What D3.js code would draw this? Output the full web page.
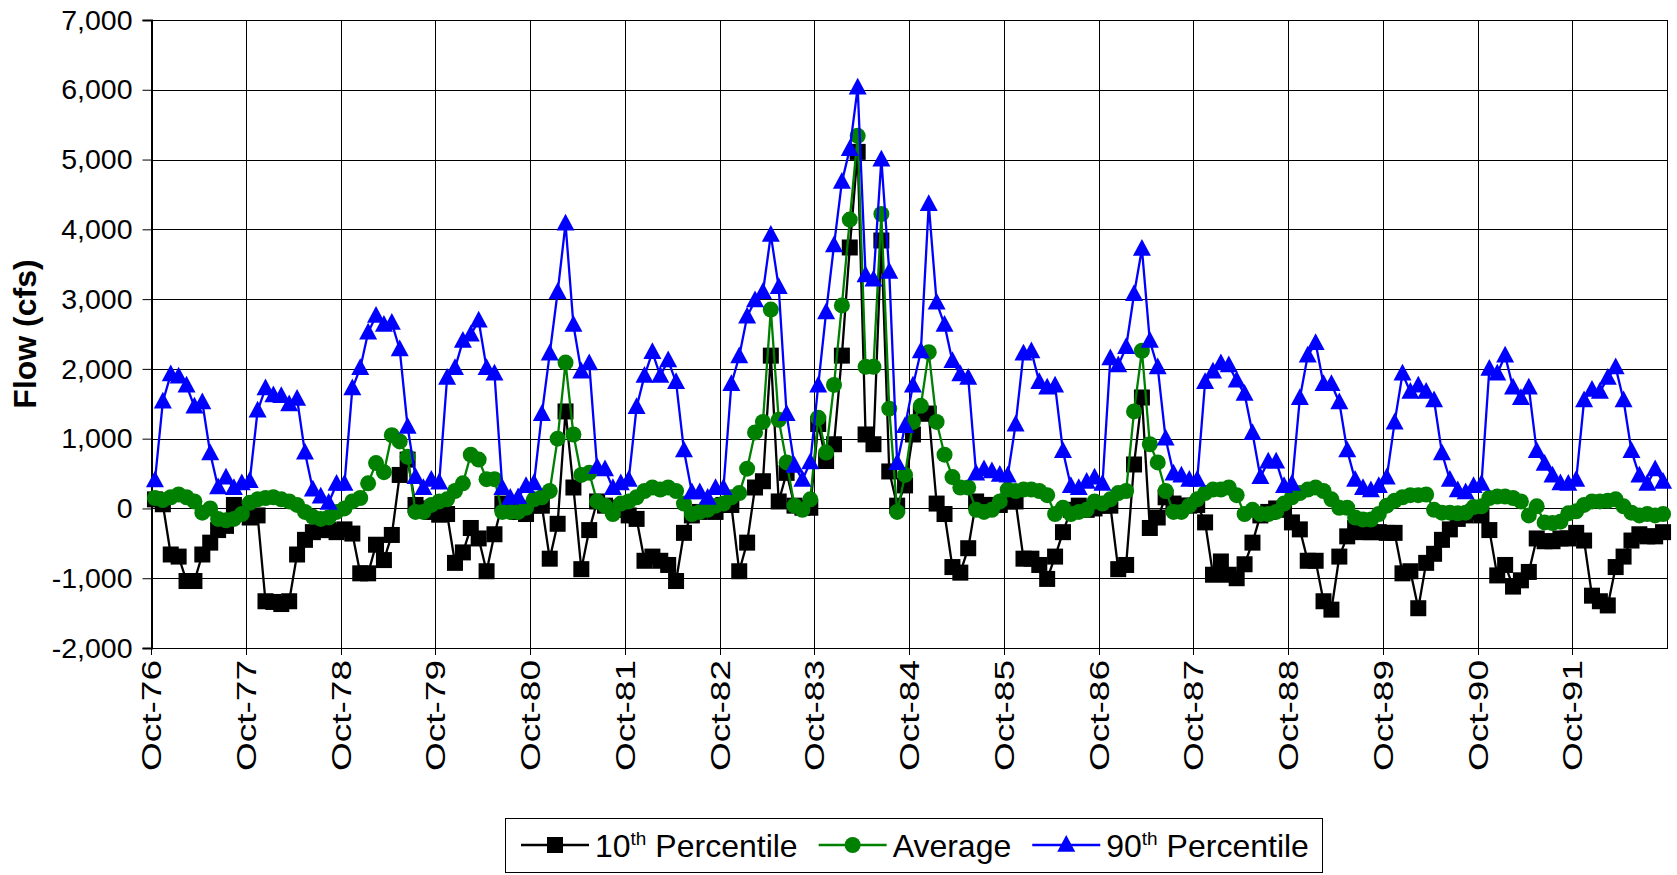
<!DOCTYPE html>
<html>
<head>
<meta charset="utf-8">
<script src="https://cdn.jsdelivr.net/npm/d3@7"></script>
<style>
  body { margin: 0; background: #fff; }
  svg { display: block; font-family: "Liberation Sans", Arial, sans-serif; }
</style>
</head>
<body>
<svg id="chart" width="1677" height="875"></svg>
<script>
// Tick labels along the x axis (one per water year)
const tickLabels = ["Oct-76", "Oct-77", "Oct-78", "Oct-79", "Oct-80", "Oct-81", "Oct-82", "Oct-83",
  "Oct-84", "Oct-85", "Oct-86", "Oct-87", "Oct-88", "Oct-89", "Oct-90", "Oct-91"];

const yTicks = [-2000, -1000, 0, 1000, 2000, 3000, 4000, 5000, 6000, 7000];

// Monthly flows, Oct-76 .. Sep-92, one row per water year
const p10 = [
  130, 60, -660, -690, -1040, -1040, -660, -490, -310, -250, 50, -50,
  -130, -100, -1330, -1340, -1370, -1330, -660, -450, -340, -310, -310, -340,
  -300, -360, -930, -930, -520, -740, -380, 480, 700, 50, 0, -50,
  -90, -80, -780, -630, -280, -430, -900, -370, 70, 10, -50, -80,
  40, 40, -720, -220, 1390, 300, -870, -310, 100, 40, 10, -20,
  -100, -150, -750, -690, -750, -810, -1040, -350, -100, -50, -20, -50,
  50, 50, -900, -490, 300, 390, 2190, 100, 510, 40, 10, 10,
  1210, 680, 920, 2190, 3740, 5110, 1060, 920, 3840, 530, 40, 330,
  1060, 1360, 1360, 70, -80, -840, -920, -570, 100, 50, 50, 50,
  100, 100, -720, -720, -810, -1010, -690, -340, -20, 40, -20, 0,
  40, 40, -870, -810, 630, 1590, -280, -130, 160, 70, 40, 40,
  50, -200, -950, -760, -950, -1000, -800, -490, -100, -50, 0, -20,
  -200, -300, -750, -750, -1330, -1450, -690, -400, -280, -340, -340, -340,
  -350, -350, -930, -900, -1430, -780, -650, -450, -300, -150, -100, -50,
  -100, -310, -960, -810, -1120, -1030, -910, -430, -470, -470, -430, -430,
  -350, -460, -1250, -1330, -1390, -840, -690, -460, -370, -400, -400, -340
];

const avg = [
  150, 120, 160, 200, 160, 100, -60, 0, -150, -170, -150, -80,
  80, 130, 150, 160, 130, 100, 50, -50, -120, -150, -130, -50,
  0, 100, 150, 360, 650, 520, 1050, 960, 740, -50, -50, 50,
  100, 130, 250, 360, 770, 700, 420, 420, -50, -50, -50, 10,
  130, 160, 250, 1000, 2090, 1060, 480, 510, 100, 40, -80, 70,
  100, 160, 250, 300, 270, 300, 250, 70, -80, -50, -20, 40,
  70, 160, 220, 570, 1090, 1240, 2850, 1270, 660, 40, -20, 130,
  1300, 800, 1770, 2910, 4140, 5340, 2030, 2030, 4220, 1430, -50, 480,
  1240, 1470, 2240, 1240, 770, 450, 300, 300, -20, -50, -20, 100,
  270, 250, 270, 270, 250, 190, -80, 10, -80, -50, -20, 100,
  70, 130, 220, 250, 1390, 2260, 920, 660, 250, -50, -50, 40,
  130, 220, 270, 270, 300, 190, -80, -20, -80, -80, -50, 70,
  160, 220, 270, 300, 250, 130, 10, 10, -130, -160, -160, -80,
  40, 110, 160, 190, 190, 200, -20, -60, -60, -70, -60, 20,
  30, 150, 170, 170, 150, 100, -100, 30, -200, -210, -190, -70,
  -40, 50, 100, 100, 110, 130, 30, -60, -100, -80, -100, -80
];

const p90 = [
  400, 1530, 1920, 1890, 1760, 1460, 1520, 790, 300, 440, 290, 360,
  390, 1400, 1720, 1620, 1610, 1490, 1570, 800, 270, 170, 80, 350,
  350, 1720, 2010, 2520, 2760, 2630, 2660, 2280, 1170, 450, 290, 410,
  370, 1870, 2010, 2400, 2490, 2690, 2010, 1930, 290, 150, 160, 320,
  360, 1350, 2220, 3100, 4080, 2630, 1960, 2080, 590, 560, 290, 360,
  410, 1450, 1900, 2240, 1900, 2120, 1810, 830, 230, 230, 150, 290,
  290, 1780, 2180, 2750, 2980, 3100, 3920, 3170, 1350, 610, 410, 660,
  1760, 2810, 3770, 4680, 5150, 6030, 3340, 3280, 5000, 3390, 650, 1180,
  1760, 2250, 4360, 2950, 2630, 2110, 1920, 1870, 500, 560, 530, 480,
  470, 1200, 2220, 2250, 1810, 1730, 1760, 820, 320, 290, 380, 440,
  350, 2150, 2050, 2310, 3070, 3720, 2400, 2020, 1000, 500, 470, 410,
  410, 1810, 1960, 2080, 2050, 1830, 1640, 1080, 450, 670, 670, 320,
  350, 1580, 2190, 2370, 1780, 1780, 1520, 830, 410, 290, 260, 320,
  440, 1230, 1930, 1670, 1760, 1670, 1550, 790, 410, 260, 230, 320,
  350, 2000, 1930, 2190, 1730, 1580, 1730, 820, 640, 470, 360, 350,
  410, 1550, 1700, 1670, 1870, 2020, 1550, 820, 470, 350, 560, 380
];

const series = [
  { name: "10", sup: "th", rest: " Percentile", values: p10, color: "#000000", marker: "square" },
  { name: "Average", sup: "", rest: "", values: avg, color: "#008000", marker: "circle" },
  { name: "90", sup: "th", rest: " Percentile", values: p90, color: "#0000FF", marker: "triangle" }
];

const svg = d3.select("#chart");

const plotLeft = 151, plotRight = 1667, plotTop = 20, plotBottom = 648;
const nMonths = p10.length;

const xScale = d3.scaleLinear().domain([0, nMonths]).range([plotLeft, plotRight]);
const yScale = d3.scaleLinear().domain([-2000, 7000]).range([plotBottom, plotTop]);

const fmt = d3.formatLocale({ decimal: ".", thousands: ",", grouping: [3], currency: ["$", ""], minus: "-" }).format(",");

// Grid
const grid = svg.append("g");
grid.selectAll(".hgrid")
  .data(yTicks)
  .enter()
  .append("line")
  .attr("x1", plotLeft).attr("x2", plotRight)
  .attr("y1", d => Math.round(yScale(d)) + 0.5)
  .attr("y2", d => Math.round(yScale(d)) + 0.5)
  .attr("stroke", "#000")
  .attr("stroke-width", 1);

grid.selectAll(".vgrid")
  .data(tickLabels)
  .enter()
  .append("line")
  .attr("x1", (d, i) => Math.round(xScale(i * 12)) + 0.5)
  .attr("x2", (d, i) => Math.round(xScale(i * 12)) + 0.5)
  .attr("y1", plotTop).attr("y2", plotBottom + 7)
  .attr("stroke", "#000")
  .attr("stroke-width", 1);

// plot border
svg.append("rect")
  .attr("x", plotLeft + 0.5).attr("y", plotTop + 0.5)
  .attr("width", plotRight - plotLeft).attr("height", plotBottom - plotTop)
  .attr("fill", "none")
  .attr("stroke", "#000")
  .attr("stroke-width", 1);

// Y axis
const yAxis = svg.append("g")
  .attr("transform", `translate(${plotLeft + 0.5},0)`)
  .call(d3.axisLeft(yScale).tickValues(yTicks).tickFormat(fmt).tickSize(9).tickPadding(10));
yAxis.select(".domain").attr("stroke", "#000").attr("stroke-width", 2);
yAxis.selectAll("text").attr("font-size", 28.5).attr("fill", "#000")
  .attr("font-family", "'Liberation Sans', Arial, sans-serif");

svg.append("text")
  .text("Flow (cfs)")
  .attr("font-weight", "bold")
  .attr("font-size", 32)
  .attr("text-anchor", "middle")
  .attr("transform", `translate(36, ${(plotTop + plotBottom) / 2}) rotate(-90)`);

// X tick labels (the original stretches them along their length)
svg.selectAll(".xlab")
  .data(tickLabels)
  .enter()
  .append("text")
  .text(d => d)
  .attr("font-size", 27)
  .attr("text-anchor", "end")
  .attr("transform", (d, i) => `translate(${xScale(i * 12) + 10}, ${plotBottom + 12}) rotate(-90) scale(1.37,1)`);

// Series: line then markers, drawn in legend order
const line = d3.line()
  .x((d, i) => xScale(i + 0.5))
  .y(d => yScale(d));

const sq = 16, rad = 8, tri = 18;

function drawMarker(g, type, color) {
  if (type === "square") {
    g.append("rect").attr("x", -sq / 2).attr("y", -sq / 2).attr("width", sq).attr("height", sq).attr("fill", color);
  } else if (type === "circle") {
    g.append("circle").attr("r", rad).attr("fill", color);
  } else {
    g.append("path").attr("d", `M0,${-tri * 0.55}L${tri / 2},${tri * 0.38}L${-tri / 2},${tri * 0.38}Z`).attr("fill", color);
  }
}

series.forEach(s => {
  svg.append("path")
    .datum(s.values)
    .attr("d", line)
    .attr("fill", "none")
    .attr("stroke", s.color)
    .attr("stroke-width", 2.3);

  svg.append("g").selectAll("g")
    .data(s.values)
    .enter()
    .append("g")
    .attr("transform", (d, i) => `translate(${xScale(i + 0.5)},${yScale(d)})`)
    .each(function () { drawMarker(d3.select(this), s.marker, s.color); });
});

// Legend
const legend = svg.append("g");
legend.append("rect")
  .attr("x", 505.5).attr("y", 818.5)
  .attr("width", 817).attr("height", 54)
  .attr("fill", "#fff")
  .attr("stroke", "#000")
  .attr("stroke-width", 1);

let cx = 521;
const ly = 845;
series.forEach(s => {
  legend.append("line")
    .attr("x1", cx).attr("x2", cx + 68)
    .attr("y1", ly).attr("y2", ly)
    .attr("stroke", s.color).attr("stroke-width", 2.3);
  const mg = legend.append("g").attr("transform", `translate(${cx + 34},${ly})`);
  drawMarker(mg, s.marker, s.color);

  const t = legend.append("text")
    .attr("x", cx + 74).attr("y", ly + 12)
    .attr("font-size", 32);
  t.append("tspan").text(s.name);
  if (s.sup) {
    t.append("tspan").text(s.sup).attr("font-size", 19).attr("dy", -12);
    t.append("tspan").text(s.rest).attr("dy", 12);
  }
  cx += 74 + t.node().getComputedTextLength() + 21;
});
</script>
</body>
</html>
